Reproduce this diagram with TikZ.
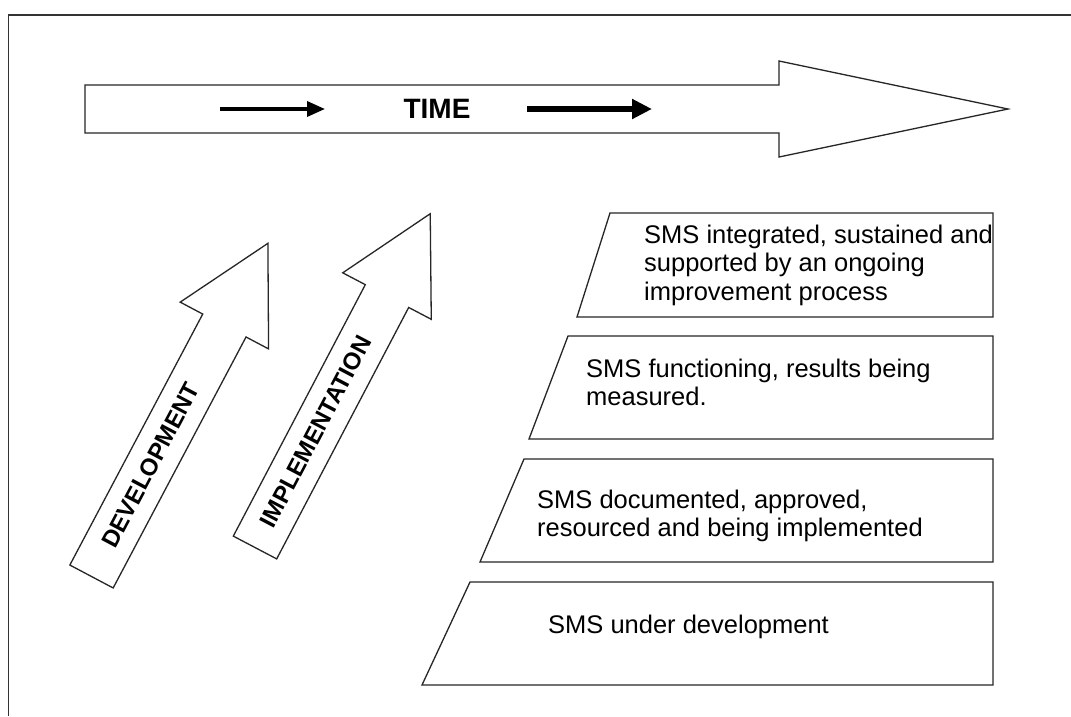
\documentclass[tikz,border=0pt]{standalone}
\usepackage{fontspec}
\setmainfont{Liberation Sans}
\usetikzlibrary{arrows.meta}
\begin{document}
\begin{tikzpicture}[x=1pt,y=-1pt,
  shapeline/.style={draw=black!85, line width=1.3pt, line join=miter},
  boxtext/.style={anchor=base west, inner sep=0pt, align=left, font=\fontsize{25.5}{28.5}\selectfont},
  bigtext/.style={inner sep=0pt, font=\bfseries\fontsize{24}{28}\selectfont},
]
\useasboundingbox[fill=white] (0,0) rectangle (1071,716);
% frame
\draw[line width=1.6pt, draw=black!80] (8.5,716) -- (8.5,15) -- (1071,15);

% TIME arrow
\draw[shapeline] (85,85) -- (779,85) -- (779,61) -- (1008,109) -- (779,157) -- (779,133) -- (85,133) -- cycle;
\node[bigtext, font=\bfseries\fontsize{28}{30}\selectfont] (time) at (437,109) {TIME};
\coordinate (a1s) at (220,109); \coordinate (a1e) at (325,109);
\draw[line width=3.5pt, -{Triangle[length=18pt,width=15pt]}] (a1s) -- (a1e);
\coordinate (a2s) at (527,109); \coordinate (a2e) at (652,109);
\draw[line width=5.5pt, -{Triangle[length=20pt,width=19pt]}] (a2s) -- (a2e);

% DEVELOPMENT arrow
\begin{scope}[shift={(91.5,576.5)}, rotate=62.1]
  \draw[shapeline] (0,-24.5) -- (284,-24.5) -- (284,-50) -- (377,0) -- (284,50) -- (284,24.5) -- (0,24.5) -- cycle;
  \node[bigtext, rotate=62.1] (dev) at (126,0) {DEVELOPMENT};
\end{scope}

% IMPLEMENTATION arrow
\begin{scope}[shift={(255,547.5)}, rotate=62.3]
  \draw[shapeline] (0,-24.5) -- (284,-24.5) -- (284,-50) -- (377,0) -- (284,50) -- (284,24.5) -- (0,24.5) -- cycle;
  \node[bigtext, rotate=62.3] (impl) at (131,0) {IMPLEMENTATION};
\end{scope}

% stage boxes (node anchor = baseline of the last line)
\begin{scope}
  \clip (577,213) rectangle (993,317);
  \node[boxtext] (b1) at (644,300) {SMS integrated, sustained and\\supported by an ongoing\\improvement process};
\end{scope}
\draw[shapeline] (610,213) -- (993,213) -- (993,317) -- (577,317) -- cycle;

\draw[shapeline] (568,336) -- (993,336) -- (993,439) -- (529,439) -- cycle;
\node[boxtext] (b2) at (586,405.5) {SMS functioning, results being\\measured.};

\draw[shapeline] (524,459) -- (993,459) -- (993,562) -- (480,562) -- cycle;
\node[boxtext] (b3) at (537,536.5) {SMS documented, approved,\\resourced and being implemented};

\draw[shapeline] (470,582) -- (993,582) -- (993,685) -- (422,685) -- cycle;
\node[boxtext] (b4) at (548,633) {SMS under development};
\end{tikzpicture}
\end{document}
